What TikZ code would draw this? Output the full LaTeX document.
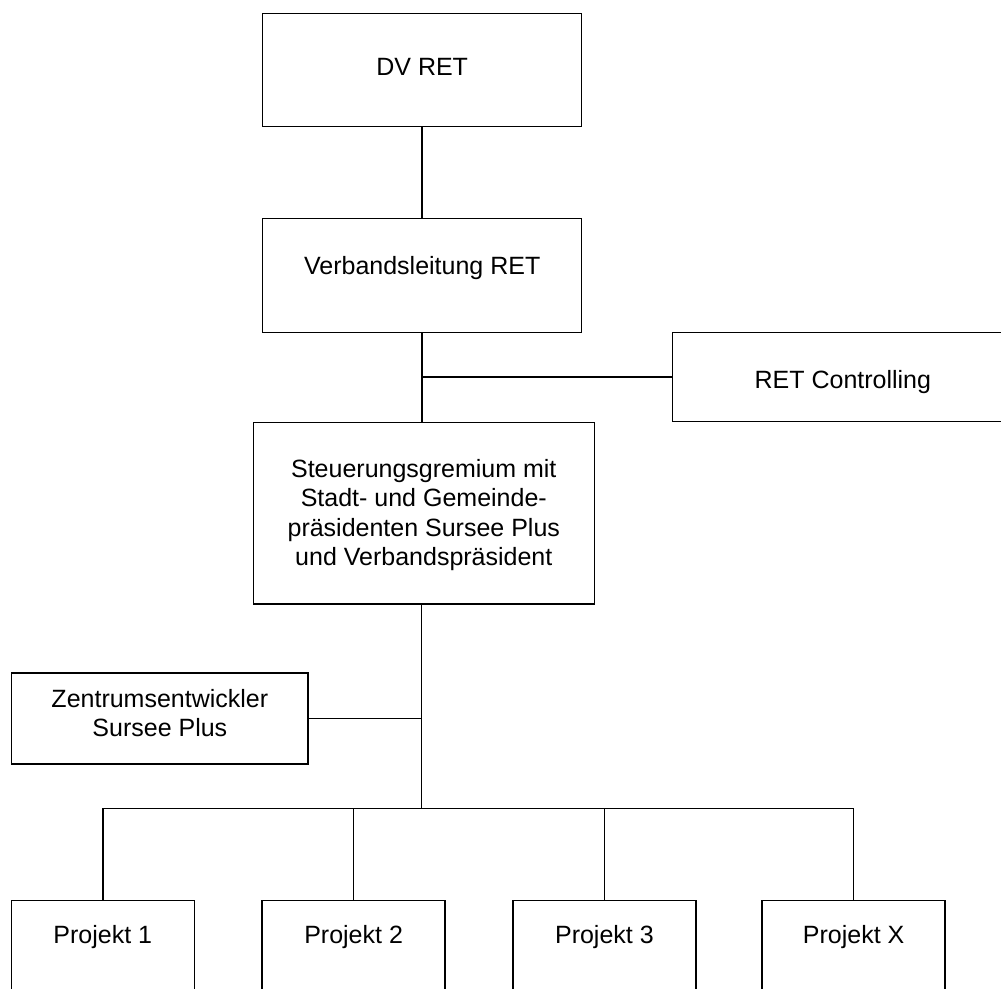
\documentclass[tikz,border=0pt]{standalone}
\usepackage{fontspec}
\setmainfont{Liberation Sans}

\begin{document}
\begin{tikzpicture}[x=1pt, y=-1pt, line width=1.5pt,
  orgbox/.style={draw, rectangle, inner sep=0pt},
  orgtext/.style={font=\fontsize{25}{29.5}\selectfont, align=center, inner sep=0pt}]
\useasboundingbox (0,0) rectangle (1001,988);

\node[orgbox, minimum width=319pt, minimum height=113.4pt] (dv) at (422.2,70) {};
\node[orgtext, anchor=base] (dv-t) at (422.2,75) {DV RET};

\node[orgbox, minimum width=319pt, minimum height=114pt] (vl) at (422.2,275.3) {};
\node[orgtext, anchor=base] (vl-t) at (422.2,274) {Verbandsleitung RET};

\node[orgbox, minimum width=340.3pt, minimum height=89.4pt] (ctl) at (842.85,377) {};
\node[orgtext, anchor=base] (ctl-t) at (842.85,388) {RET Controlling};

\node[orgbox, minimum width=341pt, minimum height=181.7pt] (st) at (423.8,513.15) {};
\node[orgtext] (st-t) at (423.8,515) {Steuerungsgremium mit\\Stadt- und Gemeinde-\\pr\"asidenten Sursee Plus\\und Verbandspr\"asident};

\node[orgbox, minimum width=296.3pt, minimum height=91pt] (zen) at (159.85,718.5) {};
\node[orgtext] (zen-t) at (159.85,713) {Zentrumsentwickler\\Sursee Plus};

\foreach \x/\n/\t in {102.75/p1/1, 353.6/p2/2, 604.4/p3/3, 853.7/px/X} {
  \node[orgbox, minimum width=183pt, minimum height=120pt] (\n) at (\x,960.7) {};
  \node[orgtext, anchor=base] (\n-t) at (\x,943) {Projekt \t};
}

% Verbindungen
\coordinate (bus) at (421.7,808.5);
\draw (dv) -- (vl);
\draw (vl.south) -- (vl.south |- st.north);
\draw (vl.south |- ctl.west) -- (ctl.west);
\draw (st.south -| bus) -- (bus);
\draw (zen.east) -- (zen.east -| bus);
\draw (p1.north) -- (p1.north |- bus) -- (px.north |- bus) -- (px.north);
\draw (p2.north) -- (p2.north |- bus);
\draw (p3.north) -- (p3.north |- bus);
\end{tikzpicture}
\end{document}
